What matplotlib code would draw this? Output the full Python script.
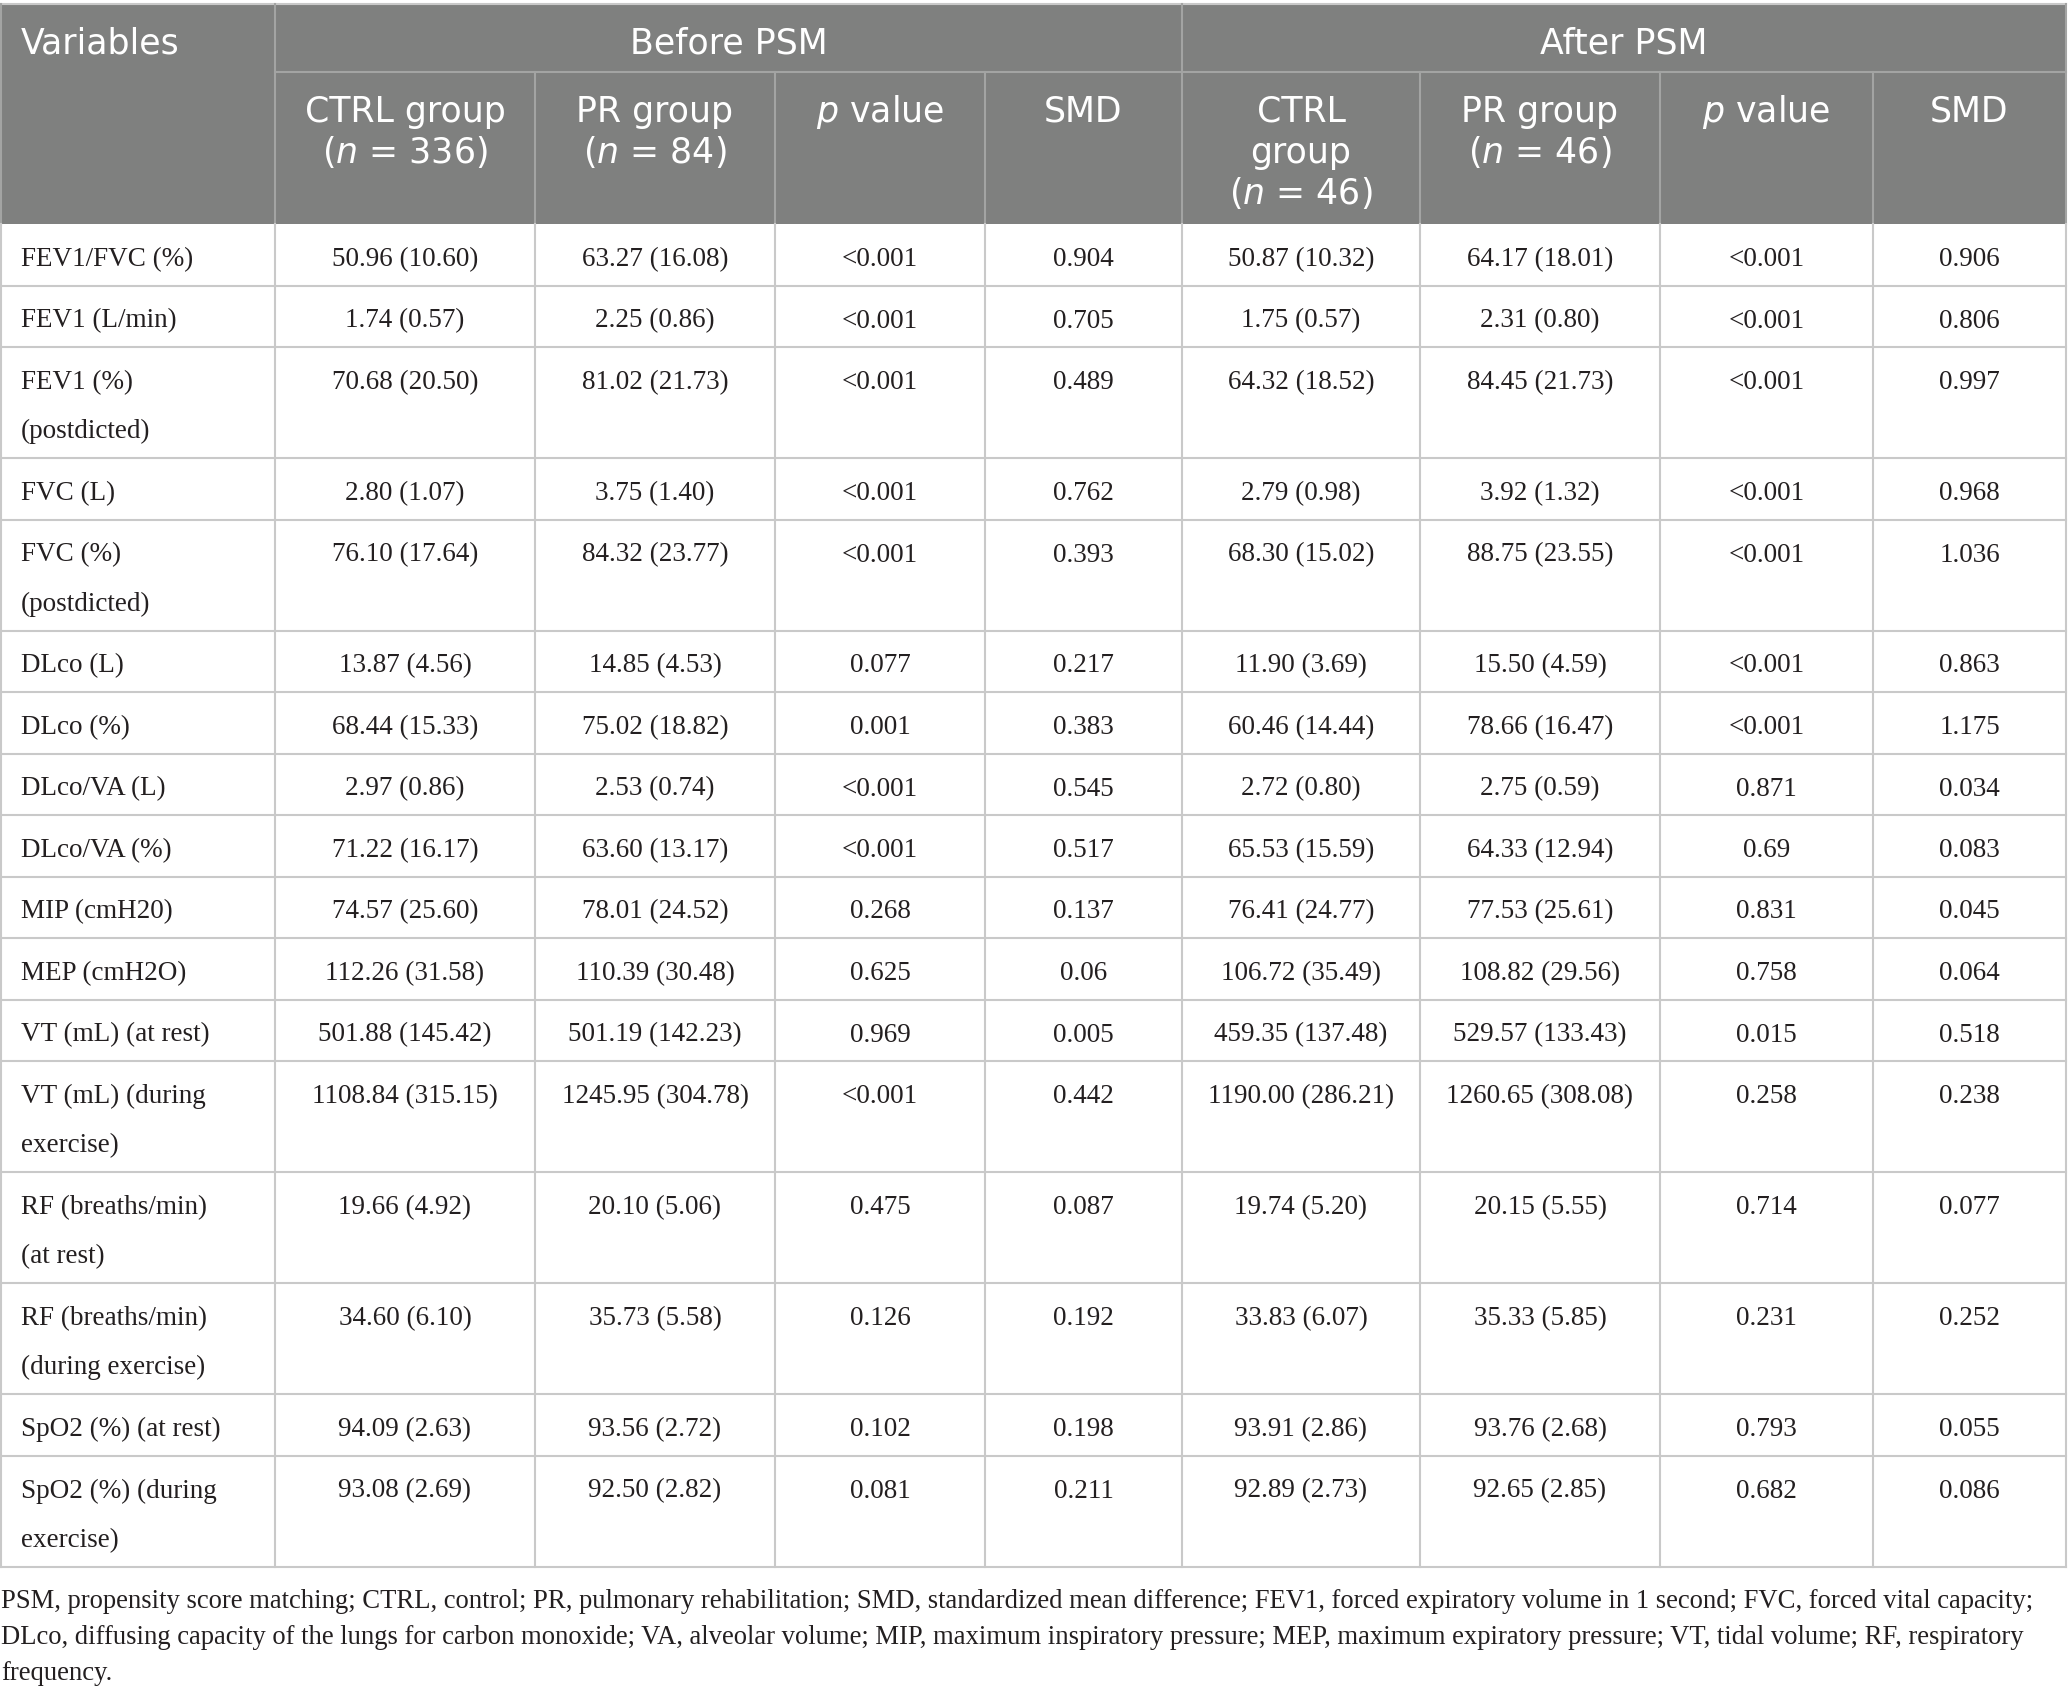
import matplotlib
matplotlib.use("Agg")
import matplotlib.pyplot as plt
from matplotlib.patches import Rectangle

plt.rcParams["mathtext.fontset"] = "dejavusans"

# ---------------- data ----------------
variables = [
    "FEV1/FVC (%)", "FEV1 (L/min)", "FEV1 (%)\n(postdicted)", "FVC (L)",
    "FVC (%)\n(postdicted)", "DLco (L)", "DLco (%)", "DLco/VA (L)", "DLco/VA (%)",
    "MIP (cmH20)", "MEP (cmH2O)", "VT (mL) (at rest)", "VT (mL) (during\nexercise)",
    "RF (breaths/min)\n(at rest)", "RF (breaths/min)\n(during exercise)",
    "SpO2 (%) (at rest)", "SpO2 (%) (during\nexercise)",
]
before_ctrl_mean = [50.96, 1.74, 70.68, 2.80, 76.10, 13.87, 68.44, 2.97, 71.22, 74.57, 112.26, 501.88, 1108.84, 19.66, 34.60, 94.09, 93.08]
before_ctrl_sd = [10.60, 0.57, 20.50, 1.07, 17.64, 4.56, 15.33, 0.86, 16.17, 25.60, 31.58, 145.42, 315.15, 4.92, 6.10, 2.63, 2.69]
before_pr_mean = [63.27, 2.25, 81.02, 3.75, 84.32, 14.85, 75.02, 2.53, 63.60, 78.01, 110.39, 501.19, 1245.95, 20.10, 35.73, 93.56, 92.50]
before_pr_sd = [16.08, 0.86, 21.73, 1.40, 23.77, 4.53, 18.82, 0.74, 13.17, 24.52, 30.48, 142.23, 304.78, 5.06, 5.58, 2.72, 2.82]
before_p = ["<0.001", "<0.001", "<0.001", "<0.001", "<0.001", "0.077", "0.001", "<0.001", "<0.001",
            "0.268", "0.625", "0.969", "<0.001", "0.475", "0.126", "0.102", "0.081"]
before_smd = ["0.904", "0.705", "0.489", "0.762", "0.393", "0.217", "0.383", "0.545", "0.517",
              "0.137", "0.06", "0.005", "0.442", "0.087", "0.192", "0.198", "0.211"]
after_ctrl_mean = [50.87, 1.75, 64.32, 2.79, 68.30, 11.90, 60.46, 2.72, 65.53, 76.41, 106.72, 459.35, 1190.00, 19.74, 33.83, 93.91, 92.89]
after_ctrl_sd = [10.32, 0.57, 18.52, 0.98, 15.02, 3.69, 14.44, 0.80, 15.59, 24.77, 35.49, 137.48, 286.21, 5.20, 6.07, 2.86, 2.73]
after_pr_mean = [64.17, 2.31, 84.45, 3.92, 88.75, 15.50, 78.66, 2.75, 64.33, 77.53, 108.82, 529.57, 1260.65, 20.15, 35.33, 93.76, 92.65]
after_pr_sd = [18.01, 0.80, 21.73, 1.32, 23.55, 4.59, 16.47, 0.59, 12.94, 25.61, 29.56, 133.43, 308.08, 5.55, 5.85, 2.68, 2.85]
after_p = ["<0.001", "<0.001", "<0.001", "<0.001", "<0.001", "<0.001", "<0.001", "0.871", "0.69",
           "0.831", "0.758", "0.015", "0.258", "0.714", "0.231", "0.793", "0.682"]
after_smd = ["0.906", "0.806", "0.997", "0.968", "1.036", "0.863", "1.175", "0.034", "0.083",
             "0.045", "0.064", "0.518", "0.238", "0.077", "0.252", "0.055", "0.086"]

group_headers = ["Before PSM", "After PSM"]
sub_headers = [
    ["CTRL group", r"($\mathit{n}$ = 336)"],
    ["PR group", r"($\mathit{n}$ = 84)"],
    [r"$\mathit{p}$ value"],
    ["SMD"],
    ["CTRL", "group", r"($\mathit{n}$ = 46)"],
    ["PR group", r"($\mathit{n}$ = 46)"],
    [r"$\mathit{p}$ value"],
    ["SMD"],
]
footnote_lines = [
    "PSM, propensity score matching; CTRL, control; PR, pulmonary rehabilitation; SMD, standardized mean difference; FEV1, forced expiratory volume in 1 second; FVC, forced vital capacity;",
    "DLco, diffusing capacity of the lungs for carbon monoxide; VA, alveolar volume; MIP, maximum inspiratory pressure; MEP, maximum expiratory pressure; VT, tidal volume; RF, respiratory",
    "frequency.",
]

# ---------------- layout ----------------
W, H, DPI = 2068, 1695, 100
fig = plt.figure(figsize=(W / DPI, H / DPI), dpi=DPI)
ax = fig.add_axes([0, 0, 1, 1])
ax.set_xlim(0, W)
ax.set_ylim(H, 0)
ax.axis("off")

col_edges = [1, 275, 535, 775, 985, 1182, 1420, 1660, 1873, 2066]
top, mid, hdr_bottom = 4, 72, 224
row_h1, line_h = 61.5, 49.5

header_bg = "#7f807f"
header_line = "#a3a4a3"
grid = "#c9c9c9"
text_col = "#231f20"
serif = ["Liberation Serif", "DejaVu Serif"]
sans = ["DejaVu Sans"]
fs_body = 19.5
fs_foot = 19.2
fs_head = 25
lw = 1.5

# header background
ax.add_patch(Rectangle((col_edges[0] - 1, top), col_edges[-1] - col_edges[0] + 1, hdr_bottom - top,
                       facecolor=header_bg, edgecolor="none", zorder=1))
ax.plot([col_edges[0] - 1, col_edges[-1]], [top, top], color=grid, lw=lw, zorder=3)
ax.plot([col_edges[1], col_edges[-1]], [mid, mid], color=header_line, lw=lw, zorder=3)
for x in [col_edges[1], col_edges[5]]:
    ax.plot([x, x], [top, hdr_bottom], color=header_line, lw=lw, zorder=3)
for x in col_edges[2:5] + col_edges[6:9]:
    ax.plot([x, x], [mid, hdr_bottom], color=header_line, lw=lw, zorder=3)
for x in [col_edges[0], col_edges[-1]]:
    ax.plot([x, x], [top, hdr_bottom], color=header_line, lw=lw, zorder=3)

# header texts
ax.text(col_edges[0] + 20, top + 50, "Variables", color="white", fontsize=fs_head,
        family=sans, ha="left", va="baseline", zorder=4)
for g, name in enumerate(group_headers):
    x0, x1 = col_edges[1 + 4 * g], col_edges[5 + 4 * g]
    ax.text((x0 + x1) / 2, top + 50, name, color="white", fontsize=fs_head,
            family=sans, ha="center", va="baseline", zorder=4)
head_line_h = 41
for j, lines in enumerate(sub_headers):
    xc = (col_edges[1 + j] + col_edges[2 + j]) / 2
    for k, s in enumerate(lines):
        ax.text(xc, 122 + k * head_line_h, s, color="white", fontsize=fs_head,
                family=sans, ha="center", va="baseline", zorder=4)

# body rows
columns = [
    [f"{m:.2f} ({s:.2f})" for m, s in zip(before_ctrl_mean, before_ctrl_sd)],
    [f"{m:.2f} ({s:.2f})" for m, s in zip(before_pr_mean, before_pr_sd)],
    before_p, before_smd,
    [f"{m:.2f} ({s:.2f})" for m, s in zip(after_ctrl_mean, after_ctrl_sd)],
    [f"{m:.2f} ({s:.2f})" for m, s in zip(after_pr_mean, after_pr_sd)],
    after_p, after_smd,
]

y = hdr_bottom
row_bounds = [y]
for i, lab in enumerate(variables):
    lab_lines = lab.split("\n")
    h = row_h1 + line_h * (len(lab_lines) - 1)
    base = y + 42
    for k, s in enumerate(lab_lines):
        ax.text(col_edges[0] + 20, base + k * line_h, s, color=text_col, fontsize=fs_body,
                family=serif, ha="left", va="baseline", zorder=4)
    for j, col in enumerate(columns):
        xc = (col_edges[1 + j] + col_edges[2 + j]) / 2
        ax.text(xc, base, col[i], color=text_col, fontsize=fs_body,
                family=serif, ha="center", va="baseline", zorder=4)
    y += h
    row_bounds.append(y)

for yb in row_bounds[1:]:
    ax.plot([col_edges[0] - 1, col_edges[-1]], [yb, yb], color=grid, lw=lw, zorder=3)
for x in col_edges:
    ax.plot([x, x], [hdr_bottom, row_bounds[-1]], color=grid, lw=lw, zorder=3)

# footnote
for k, s in enumerate(footnote_lines):
    ax.text(1, 1608 + 36 * k, s, color=text_col, fontsize=fs_foot, family=serif,
            ha="left", va="baseline", zorder=4)

fig.savefig("out.png", dpi=DPI, facecolor="white")
